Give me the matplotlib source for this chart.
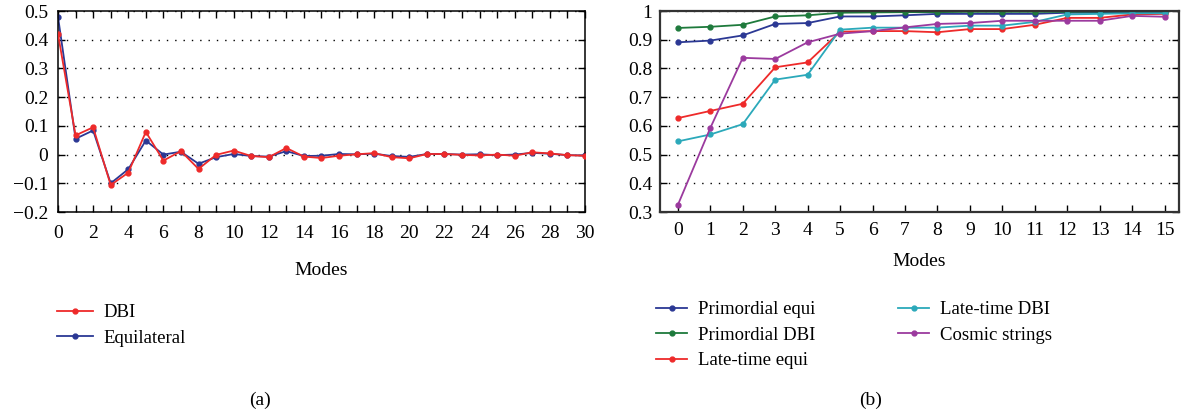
import matplotlib.pyplot as plt
from matplotlib.ticker import MultipleLocator, FuncFormatter

plt.rcParams['font.family'] = ['Liberation Serif', 'DejaVu Serif']
plt.rcParams['font.size'] = 14
plt.rcParams['axes.unicode_minus'] = True

# (a) mode coefficients
modes_a = list(range(31))
dbi = [0.42, 0.067, 0.095, -0.106, -0.063, 0.079, -0.021, 0.012, -0.05, -0.001,
       0.014, -0.005, -0.009, 0.023, -0.007, -0.012, -0.004, 0.001, 0.005, -0.009,
       -0.013, 0.002, 0.002, -0.001, -0.003, 0.0, -0.004, 0.008, 0.004, -0.002, -0.004]
equilateral = [0.48, 0.055, 0.084, -0.10, -0.051, 0.049, 0.0, 0.010, -0.032, -0.009,
               0.002, -0.005, -0.007, 0.012, -0.005, -0.004, 0.002, 0.001, 0.003, -0.005,
               -0.008, 0.002, 0.002, 0.0, 0.001, -0.002, 0.0, 0.006, 0.003, -0.002, -0.003]

# (b) cumulative correlation
modes_b = list(range(16))
prim_equi = [0.891, 0.897, 0.915, 0.955, 0.958, 0.981, 0.981, 0.985, 0.990, 0.990,
             0.990, 0.990, 0.994, 0.994, 0.995, 0.995]
prim_dbi = [0.941, 0.945, 0.952, 0.981, 0.985, 0.994, 0.995, 0.996, 0.996, 0.997,
            0.997, 0.997, 0.997, 0.998, 0.998, 0.998]
late_equi = [0.627, 0.652, 0.677, 0.804, 0.821, 0.928, 0.930, 0.930, 0.926, 0.937,
             0.937, 0.952, 0.976, 0.976, 0.988, 0.99]
late_dbi = [0.546, 0.570, 0.606, 0.761, 0.778, 0.935, 0.942, 0.942, 0.942, 0.949,
            0.949, 0.962, 0.988, 0.990, 0.992, 0.992]
cosmic = [0.325, 0.593, 0.837, 0.833, 0.891, 0.921, 0.930, 0.943, 0.955, 0.958,
          0.966, 0.966, 0.966, 0.966, 0.983, 0.98]

c_blue = '#2b3894'
c_red = '#ee2a2a'
c_green = '#1e7a3c'
c_cyan = '#2ba9ba'
c_purple = '#9b3a9e'

fig = plt.figure(figsize=(11.81, 4.12), dpi=100)
ax1 = fig.add_axes([0.0491, 0.4854, 0.4462, 0.4879])
ax2 = fig.add_axes([0.5589, 0.4854, 0.4395, 0.4879])

kw = dict(marker='o', markersize=3.5, linewidth=1.3)
leg_kw = dict(frameon=False, borderpad=0, handletextpad=0.55, labelspacing=0.44,
              fontsize=13.5, bbox_transform=fig.transFigure, loc='upper left')

ax1.plot(modes_a, dbi, color=c_red, label='DBI', zorder=3, **kw)
ax1.plot(modes_a, equilateral, color=c_blue, label='Equilateral', zorder=2, **kw)
ax1.set_xlim(0, 30)
ax1.set_ylim(-0.2, 0.5)
ax1.xaxis.set_major_locator(MultipleLocator(2))
ax1.xaxis.set_minor_locator(MultipleLocator(1))
ax1.yaxis.set_major_locator(MultipleLocator(0.1))
ax1.yaxis.set_major_formatter(FuncFormatter(lambda v, p: ('%g' % round(v, 2)).replace('-', '\u2212')))
ax1.tick_params(which='both', direction='in', top=True, right=True, length=5, width=1)
ax1.tick_params(axis='x', pad=9.6)
ax1.tick_params(axis='y', pad=7)
ax1.grid(axis='y', linestyle=(0, (1, 5)), color='black', linewidth=1)
ax1.set_xlabel('Modes', labelpad=14.5)
ax1.legend(bbox_to_anchor=(0.0407, 0.284), handlelength=1.92, **leg_kw)
for s in ax1.spines.values():
    s.set_linewidth(1.1)

ax2.plot(modes_b, prim_equi, color=c_blue, label='Primordial equi', **kw)
ax2.plot(modes_b, prim_dbi, color=c_green, label='Primordial DBI', **kw)
ax2.plot(modes_b, late_equi, color=c_red, label='Late-time equi', **kw)
ax2.plot(modes_b, late_dbi, color=c_cyan, label='Late-time DBI', **kw)
ax2.plot(modes_b, cosmic, color=c_purple, label='Cosmic strings', **kw)
ax2.set_xlim(-0.55, 15.45)
ax2.set_ylim(0.3, 1.0)
ax2.xaxis.set_major_locator(MultipleLocator(1))
ax2.yaxis.set_major_locator(MultipleLocator(0.1))
ax2.yaxis.set_major_formatter(FuncFormatter(lambda v, p: '%g' % round(v, 2)))
ax2.tick_params(which='both', direction='in', right=True, length=5, width=1)
ax2.tick_params(axis='x', pad=7.1)
ax2.tick_params(axis='y', pad=5.5)
ax2.grid(axis='y', linestyle=(0, (1, 5)), color='black', linewidth=1)
ax2.set_xlabel('Modes', labelpad=10)
ax2.legend(bbox_to_anchor=(0.5478, 0.2913), ncol=2, handlelength=1.65,
           columnspacing=4.45, **leg_kw)
for s in ax2.spines.values():
    s.set_linewidth(1.6)
    s.set_color('#333333')

fig.text(0.2201, 0.029, '(a)', ha='center', va='center', fontsize=14)
fig.text(0.7375, 0.029, '(b)', ha='center', va='center', fontsize=14)

fig.savefig('out.png', dpi=100)
